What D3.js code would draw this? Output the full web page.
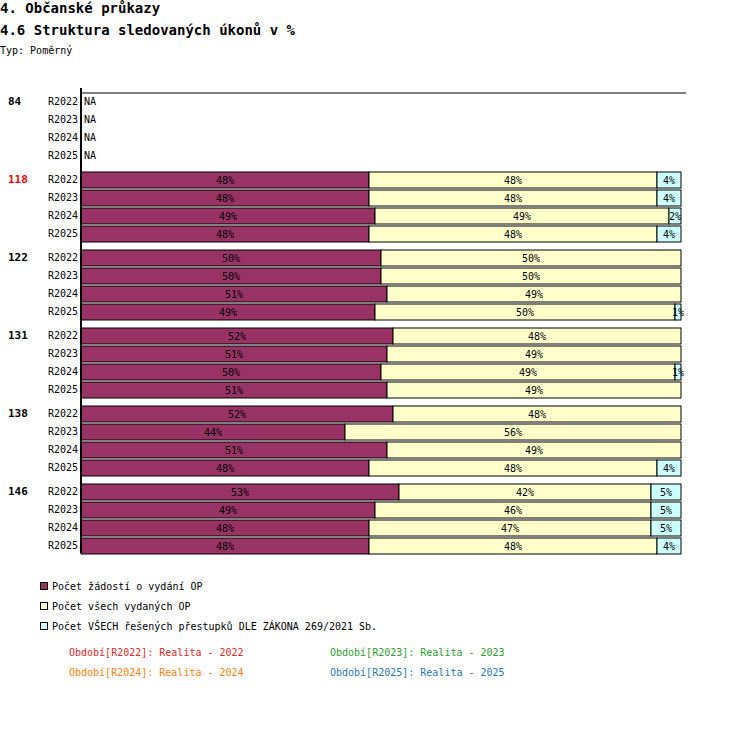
<!DOCTYPE html>
<html lang="cs">
<head>
<meta charset="utf-8">
<script src="https://d3js.org/d3.v7.min.js"></script>
<style>
  body { margin: 0; background: #fff; }
  text { font-family: "DejaVu Sans Mono", monospace; }
</style>
</head>
<body>
<script>
// data
var groups = ["84", "118", "122", "131", "138", "146"];
var groupColors = ["#000", "#f00", "#000", "#000", "#000", "#000"];
var periods = ["R2022", "R2023", "R2024", "R2025"];
var seriesNames = ["Počet žádostí o vydání OP", "Počet všech vydaných OP",
                   "Počet VŠECH řešených přestupků DLE ZÁKONA  269/2021 Sb."];
var seriesColors = ["#993366", "#ffffcc", "#ccffff"];
// [group][period] -> [s1, s2, s3] in %, null = NA
var values = [
  [null, null, null, null],
  [[48, 48, 4], [48, 48, 4], [49, 49, 2], [48, 48, 4]],
  [[50, 50, 0], [50, 50, 0], [51, 49, 0], [49, 50, 1]],
  [[52, 48, 0], [51, 49, 0], [50, 49, 1], [51, 49, 0]],
  [[52, 48, 0], [44, 56, 0], [51, 49, 0], [48, 48, 4]],
  [[53, 42, 5], [49, 46, 5], [48, 47, 5], [48, 48, 4]]
];
var footer = [
  {t: "Období[R2022]: Realita - 2022", c: "#e8262b"},
  {t: "Období[R2023]: Realita - 2023", c: "#2ca02c"},
  {t: "Období[R2024]: Realita - 2024", c: "#ff7f0e"},
  {t: "Období[R2025]: Realita - 2025", c: "#1f77b4"}
];

var W = 750, H = 730;
var svg = d3.select("body").append("svg").attr("width", W).attr("height", H);

svg.append("text").attr("x", 0).attr("y", 13).attr("font-size", 14).attr("font-weight", "bold").text("4. Občanské průkazy");
svg.append("text").attr("x", 0).attr("y", 35).attr("font-size", 14).attr("font-weight", "bold").text("4.6 Struktura sledovaných úkonů v %");
svg.append("text").attr("x", 0).attr("y", 54).attr("font-size", 10).text("Typ: Poměrný");

var x = d3.scaleLinear().domain([0, 100]).range([81, 681]);
var rowH = 18, groupH = 78, top0 = 93;
function rowY(g, p) { return top0 + g * groupH + p * rowH; }

groups.forEach(function(gname, g) {
  svg.append("text").attr("x", 8).attr("y", rowY(g, 0) + 12)
    .attr("font-size", 11).attr("font-weight", "bold")
    .attr("fill", groupColors[g]).text(gname);
  periods.forEach(function(pname, p) {
    var y = rowY(g, p);
    svg.append("text").attr("x", 78).attr("y", y + 12).attr("text-anchor", "end")
      .attr("font-size", 10).text(pname);
    var v = values[g][p];
    if (!v) {
      svg.append("text").attr("x", 84).attr("y", y + 12).attr("font-size", 10).text("NA");
      return;
    }
    var acc = 0;
    v.forEach(function(val, s) {
      if (val <= 0) return;
      var x0 = x(acc), x1 = x(acc + val);
      acc += val;
      svg.append("rect").attr("x", x0).attr("y", y + 1).attr("width", x1 - x0).attr("height", 16)
        .attr("fill", seriesColors[s]).attr("stroke", "#000").attr("stroke-width", 1);
      svg.append("text").attr("x", (x0 + x1) / 2).attr("y", y + 13).attr("text-anchor", "middle")
        .attr("font-size", 10).text(val + "%");
    });
  });
});

// axes lines
svg.append("line").attr("x1", 81).attr("x2", 686).attr("y1", 93).attr("y2", 93).attr("stroke", "#000");
svg.append("line").attr("x1", 81).attr("x2", 81).attr("y1", 88).attr("y2", 553).attr("stroke", "#000").attr("stroke-width", 2);

// legend
seriesNames.forEach(function(n, i) {
  var y = 582 + i * 20;
  svg.append("rect").attr("x", 40.5).attr("y", y + 0.5).attr("width", 7).attr("height", 7)
    .attr("fill", seriesColors[i]).attr("stroke", "#000");
  svg.append("text").attr("x", 52).attr("y", y + 8).attr("font-size", 10).text(n);
});
footer.forEach(function(f, i) {
  svg.append("text").attr("x", i % 2 ? 330 : 69).attr("y", 656 + Math.floor(i / 2) * 20)
    .attr("font-size", 10).attr("fill", f.c).text(f.t);
});
</script>
</body>
</html>
